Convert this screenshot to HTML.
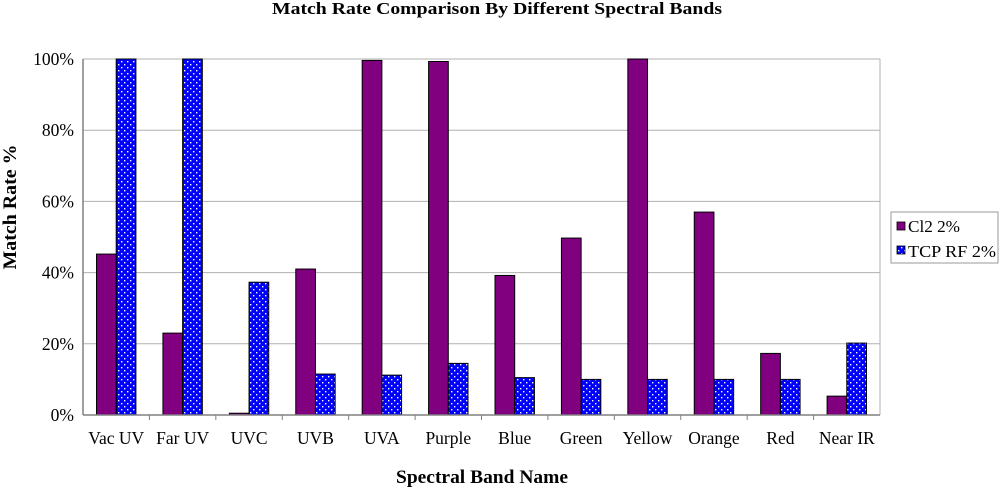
<!DOCTYPE html>
<html><head><meta charset="utf-8"><style>
html,body{margin:0;padding:0;background:#fff}
svg{display:block;font-family:"Liberation Serif",serif}
</style></head><body>
<svg id="chart" width="1000" height="487" viewBox="0 0 1000 487" xmlns="http://www.w3.org/2000/svg">
<defs>
<pattern id="dots" patternUnits="userSpaceOnUse" width="6" height="6">
<rect width="6" height="6" fill="#0000ff"/>
<rect x="1" y="1" width="1.4" height="1.4" fill="#fff"/>
<rect x="4" y="4" width="1.4" height="1.4" fill="#fff"/>
</pattern>
</defs>
<text x="497" y="14" text-anchor="middle" font-size="17" font-weight="bold" textLength="450" lengthAdjust="spacingAndGlyphs">Match Rate Comparison By Different Spectral Bands</text>
<g id="grid"></g>
<g id="bars"></g>
<g id="axes"></g>
<text x="482" y="483" text-anchor="middle" font-size="19" font-weight="bold" textLength="172" lengthAdjust="spacingAndGlyphs">Spectral Band Name</text>
<text transform="translate(16,207) rotate(-90)" text-anchor="middle" font-size="19" font-weight="bold" textLength="125" lengthAdjust="spacingAndGlyphs">Match Rate %</text>
<g>
<rect x="891" y="212" width="107" height="51" fill="#fff" stroke="#999" stroke-width="1"/>
<g>
<rect x="897" y="222" width="8" height="8" fill="#800080" stroke="#000" stroke-width="0.8"/>
<text x="908" y="232" font-size="17" textLength="52" lengthAdjust="spacingAndGlyphs">Cl2 2%</text>
</g>
<g>
<rect x="897" y="246" width="8" height="8" fill="url(#dots)" stroke="#000" stroke-width="0.8"/>
<text x="908" y="257" font-size="17" textLength="88" lengthAdjust="spacingAndGlyphs">TCP RF 2%</text>
</g>
</g>
</svg>
<script>
const categories = ["Vac UV","Far UV","UVC","UVB","UVA","Purple","Blue","Green","Yellow","Orange","Red","Near IR"];
const cl2Values = [45.2, 23, 0.5, 41, 99.6, 99.3, 39.2, 49.7, 100, 57, 17.3, 5.3];
const tcpValues = [100, 100, 37.3, 11.5, 11.2, 14.5, 10.5, 10, 10, 10, 10, 20.2];
const yTicks = [0, 20, 40, 60, 80, 100];
const yTickLabels = ["0%","20%","40%","60%","80%","100%"];

const NS = "http://www.w3.org/2000/svg";
const L = 83, R = 880, T = 59, B = 415;
const band = (R - L) / categories.length;
const y = v => B - (v / 100) * (B - T);
const xCat = i => L + i * band;
function mk(tag, attrs, parent){ const e = document.createElementNS(NS, tag); for (const k in attrs) e.setAttribute(k, attrs[k]); parent.appendChild(e); return e; }
const grid = document.getElementById('grid'), bars = document.getElementById('bars'), axes = document.getElementById('axes');

yTicks.forEach((t, i) => {
  if (t > 0) {
    const g = mk('line', {x1: L, x2: R, y1: y(t), y2: y(t), stroke: '#b0b0b0', 'stroke-width': 1}, grid);
    
    
  }
  const lb = mk('text', {x: 74, y: y(t) + 6, 'text-anchor': 'end', 'font-size': 17.5}, axes);
  lb.textContent = yTickLabels[i];
  
  
});
mk('line', {x1: R, x2: R, y1: T, y2: B, stroke: '#b0b0b0', 'stroke-width': 1}, grid);

const bw = 19.7, gap = (band - 2 * bw) / 2;
categories.forEach((c, i) => {
  const x0 = xCat(i) + gap;
  const b1 = mk('rect', {x: x0, y: y(cl2Values[i]), width: bw, height: B - y(cl2Values[i]), fill: '#800080', stroke: '#000', 'stroke-width': 1}, bars);
  
  
  const b2 = mk('rect', {x: x0 + bw, y: y(tcpValues[i]), width: bw, height: B - y(tcpValues[i]), fill: 'url(#dots)', stroke: '#000', 'stroke-width': 1}, bars);
  
  
  const lb = mk('text', {x: xCat(i) + band / 2, y: 444, 'text-anchor': 'middle', 'font-size': 17.5}, axes);
  lb.textContent = c;
  
  
  if (i > 0) mk('line', {x1: xCat(i), x2: xCat(i), y1: B, y2: B + 5, stroke: '#808080'}, axes);
});
mk('line', {x1: L, x2: L, y1: T, y2: B, stroke: '#808080', 'stroke-width': 1.5}, axes);
mk('line', {x1: L, x2: R, y1: B, y2: B, stroke: '#808080', 'stroke-width': 1.5}, axes);
</script>
</body></html>
